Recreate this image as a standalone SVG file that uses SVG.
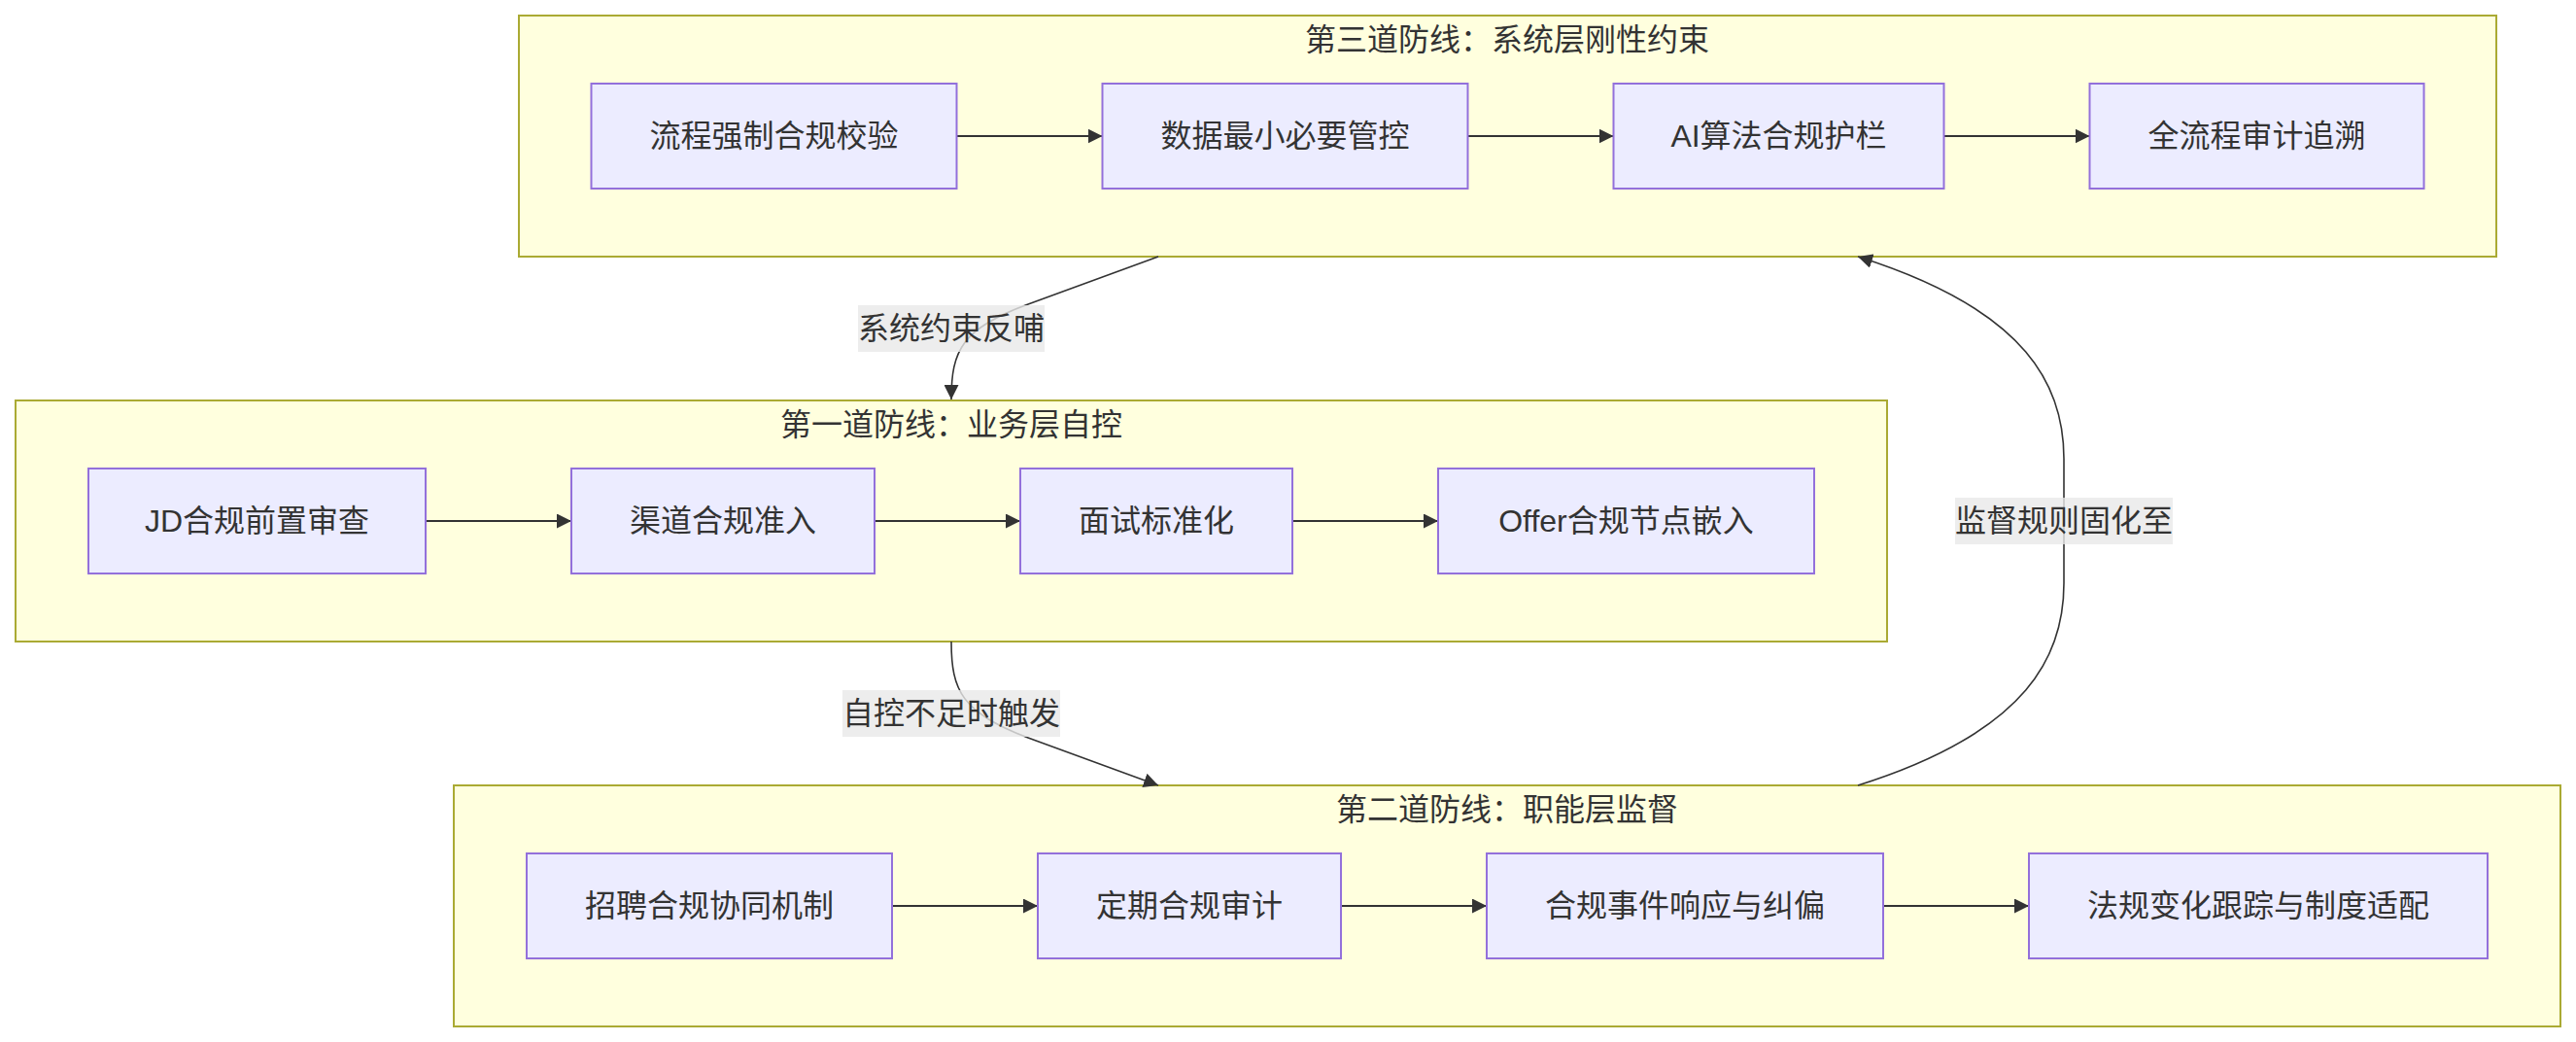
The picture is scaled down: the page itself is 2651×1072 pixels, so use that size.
<svg xmlns="http://www.w3.org/2000/svg" width="2651" height="1072" viewBox="0 0 2651 1072">
<style>
.cluster{fill:#ffffde;stroke:#aaaa33;stroke-width:2}
.node{fill:#ececff;stroke:#9370db;stroke-width:2}
text{font-family:"Liberation Sans","Noto Sans CJK SC",sans-serif;font-size:32px;fill:#333;text-anchor:middle}
.edge{fill:none;stroke:#333;stroke-width:2}
.curve{fill:none;stroke:#333;stroke-width:1.6}
.lbl{fill:#e8e8e8;fill-opacity:0.8}
</style>
<defs>
<marker id="arrow" viewBox="0 0 10 10" refX="10" refY="5" markerWidth="15" markerHeight="15" markerUnits="userSpaceOnUse" orient="auto">
<path d="M0,0 L10,5 L0,10 z" fill="#333"/>
</marker>
</defs>
<g id="cluster-L3">
<rect class="cluster" x="534" y="16" width="2035" height="248"/>
<text x="1551" y="52">第三道防线：系统层刚性约束</text>
</g>
<g id="cluster-L1">
<rect class="cluster" x="16" y="412" width="1926" height="248"/>
<text x="979" y="448">第一道防线：业务层自控</text>
</g>
<g id="cluster-L2">
<rect class="cluster" x="467" y="808" width="2168" height="248"/>
<text x="1551" y="844">第二道防线：职能层监督</text>
</g>
<g id="connectors">
<path class="edge" d="M984.5,140 L1134.5,140" marker-end="url(#arrow)"/>
<path class="edge" d="M1510.5,140 L1660.5,140" marker-end="url(#arrow)"/>
<path class="edge" d="M2000.5,140 L2150.5,140" marker-end="url(#arrow)"/>
<path class="edge" d="M438,536 L588,536" marker-end="url(#arrow)"/>
<path class="edge" d="M900,536 L1050,536" marker-end="url(#arrow)"/>
<path class="edge" d="M1330,536 L1480,536" marker-end="url(#arrow)"/>
<path class="edge" d="M918,932 L1068,932" marker-end="url(#arrow)"/>
<path class="edge" d="M1380,932 L1530,932" marker-end="url(#arrow)"/>
<path class="edge" d="M1938,932 L2088,932" marker-end="url(#arrow)"/>
<path class="curve" d="M1192,264 L1058,313 C990,338 979,360 979,411" marker-end="url(#arrow)"/>
<path class="curve" d="M979,660 C979,711 990,733 1058,759 L1192,808" marker-end="url(#arrow)"/>
<path class="curve" d="M1912,808 C2090,752 2124,672 2124,600 L2124,472 C2124,400 2090,320 1912,264" marker-end="url(#arrow)"/>
<g id="label-feedback">
<rect class="lbl" x="883" y="314" width="192" height="48"/>
<text x="979" y="349">系统约束反哺</text>
</g>
<g id="label-trigger">
<rect class="lbl" x="867" y="710" width="224" height="48"/>
<text x="979" y="745">自控不足时触发</text>
</g>
<g id="label-solidify">
<rect class="lbl" x="2012" y="512" width="224" height="48"/>
<text x="2124" y="547">监督规则固化至</text>
</g>
</g>
<g id="n-flow-check">
<rect class="node" x="608.5" y="86" width="376" height="108"/>
<text x="796.5" y="151">流程强制合规校验</text>
</g>
<g id="n-data-min">
<rect class="node" x="1134.5" y="86" width="376" height="108"/>
<text x="1322.5" y="151">数据最小必要管控</text>
</g>
<g id="n-ai-guard">
<rect class="node" x="1660.5" y="86" width="340" height="108"/>
<text x="1830.5" y="151">AI算法合规护栏</text>
</g>
<g id="n-audit-trace">
<rect class="node" x="2150.5" y="86" width="344" height="108"/>
<text x="2322.5" y="151">全流程审计追溯</text>
</g>
<g id="n-jd">
<rect class="node" x="91" y="482" width="347" height="108"/>
<text x="264.5" y="547">JD合规前置审查</text>
</g>
<g id="n-channel">
<rect class="node" x="588" y="482" width="312" height="108"/>
<text x="744" y="547">渠道合规准入</text>
</g>
<g id="n-interview">
<rect class="node" x="1050" y="482" width="280" height="108"/>
<text x="1190" y="547">面试标准化</text>
</g>
<g id="n-offer">
<rect class="node" x="1480" y="482" width="387" height="108"/>
<text x="1673.5" y="547">Offer合规节点嵌入</text>
</g>
<g id="n-collab">
<rect class="node" x="542" y="878" width="376" height="108"/>
<text x="730" y="943">招聘合规协同机制</text>
</g>
<g id="n-periodic">
<rect class="node" x="1068" y="878" width="312" height="108"/>
<text x="1224" y="943">定期合规审计</text>
</g>
<g id="n-incident">
<rect class="node" x="1530" y="878" width="408" height="108"/>
<text x="1734" y="943">合规事件响应与纠偏</text>
</g>
<g id="n-regulation">
<rect class="node" x="2088" y="878" width="472" height="108"/>
<text x="2324" y="943">法规变化跟踪与制度适配</text>
</g>
</svg>
